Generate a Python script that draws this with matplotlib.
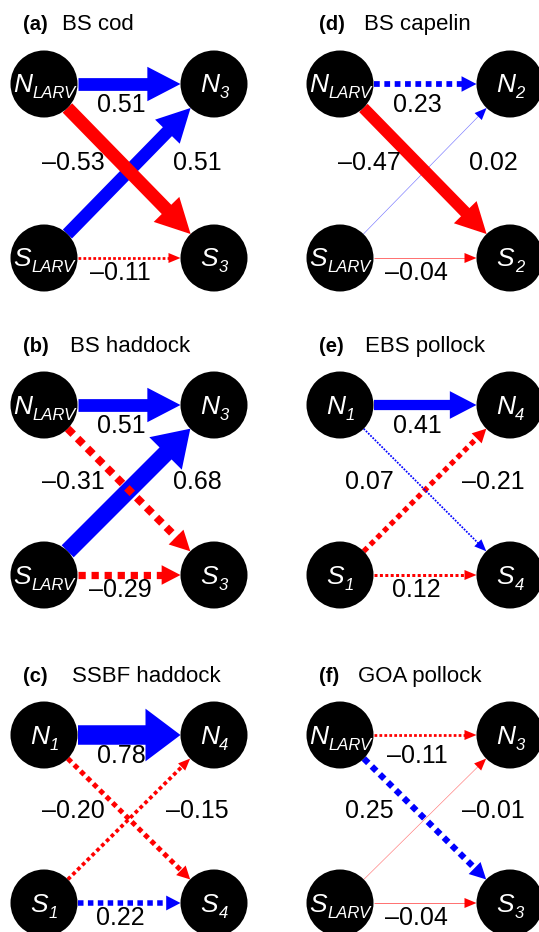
import numpy as np
import matplotlib
matplotlib.use("Agg")
import matplotlib.pyplot as plt
from matplotlib.patches import Circle, Polygon

plt.rcParams['font.family'] = ['Liberation Sans', 'DejaVu Sans']

# Panel data: letters, names, node labels (letter, subscript)
panel_ids = ['(a)', '(b)', '(c)', '(d)', '(e)', '(f)']
panel_names = ['BS cod', 'BS haddock', 'SSBF haddock', 'BS capelin', 'EBS pollock', 'GOA pollock']
start_sub = ['LARV', 'LARV', '1', 'LARV', '1', 'LARV']
end_sub = ['3', '3', '4', '2', '4', '3']

# path coefficients: N->N, N->S, S->N, S->S
coef_nn = [0.51, 0.51, 0.78, 0.23, 0.41, -0.11]
coef_ns = [-0.53, -0.31, -0.20, -0.47, 0.07, 0.25]
coef_sn = [0.51, 0.68, -0.15, 0.02, -0.21, -0.01]
coef_ss = [-0.11, -0.29, 0.22, -0.04, 0.12, -0.04]
# arrow colour as drawn (b = blue, r = red)
col_nn = ['b', 'b', 'b', 'b', 'b', 'r']
col_ns = ['r', 'r', 'r', 'r', 'b', 'b']
col_sn = ['b', 'b', 'r', 'b', 'r', 'r']
col_ss = ['r', 'r', 'b', 'r', 'r', 'r']
# solid (significant) or broken
sig_nn = [True, True, True, False, True, False]
sig_ns = [True, False, False, True, False, False]
sig_sn = [True, True, False, False, False, False]
sig_ss = [False, False, False, False, False, False]

# layout (pixels)
col_x = [44, 340]
top_y = [84, 405, 735]
bot_y = [258, 575, 903]
title_y = [30, 352, 682]
name_x = [62, 70, 72, 364, 365, 358]
dx = 170
R = 33.5
COLORS = {'b': '#0000ff', 'r': '#ff0000'}

fig = plt.figure(figsize=(5.39, 9.32), dpi=100)
ax = fig.add_axes([0, 0, 1, 1])
ax.set_xlim(0, 539)
ax.set_ylim(932, 0)
ax.axis('off')
renderer = fig.canvas.get_renderer()


def arrow(p0, p1, c, colkey, solid):
    color = COLORS[colkey]
    lw = max(25 * abs(c), 0.6)
    p0 = np.array(p0, float)
    p1 = np.array(p1, float)
    u = (p1 - p0) / np.linalg.norm(p1 - p0)
    n = np.array([-u[1], u[0]])
    start = p0 + R * u
    tip = p1 - R * u
    hw = max(10, 2.7 * lw)
    hl = max(12, min(2.6 * lw, 35))
    base = tip - hl * u
    alpha = 1.0
    if solid:
        ls = '-'
    elif lw < 1.5:
        ls = '-'
        alpha = 0.55
    else:
        ls = (0, (1.0, 0.8))
    ax.plot([start[0], base[0] + u[0]], [start[1], base[1] + u[1]], color=color, alpha=alpha,
            lw=lw * 0.72, linestyle=ls, solid_capstyle='butt', dash_capstyle='butt', zorder=2)
    ax.add_patch(Polygon([tip, base + n * hw / 2, base - n * hw / 2], closed=True,
                         facecolor=color, edgecolor='none', zorder=2))


def node(x, y, letter, sub):
    ax.add_patch(Circle((x, y), R, facecolor='black', edgecolor='none', zorder=3))
    t1 = ax.text(0, 0, letter, fontsize=19, style='italic', color='white', zorder=4)
    t2 = ax.text(0, 0, sub, fontsize=12, style='italic', color='white', zorder=4)
    w1 = t1.get_window_extent(renderer).width
    w2 = t2.get_window_extent(renderer).width
    x0 = x - (w1 + w2) / 2
    t1.set_position((x0, y + 8.5))
    t2.set_position((x0 + w1 + 0.5, y + 14.5))


def fmt(c):
    s = f'{abs(c):.2f}'
    return ('\u2013' + s) if c < 0 else s


for i in range(6):
    col, row = i // 3, i % 3
    xl = col_x[col]
    xr = xl + dx
    yt = top_y[row]
    yb = bot_y[row]
    # title
    ax.text(xl - 21, title_y[row], panel_ids[i], fontsize=14.5, fontweight='bold', va='baseline')
    ax.text(name_x[i], title_y[row], panel_names[i], fontsize=16, va='baseline')
    # arrows: S->N drawn before N->S
    arrow((xl, yt), (xr, yt), coef_nn[i], col_nn[i], sig_nn[i])
    arrow((xl, yb), (xr, yb), coef_ss[i], col_ss[i], sig_ss[i])
    arrow((xl, yb), (xr, yt), coef_sn[i], col_sn[i], sig_sn[i])
    arrow((xl, yt), (xr, yb), coef_ns[i], col_ns[i], sig_ns[i])
    # nodes
    node(xl, yt, 'N', start_sub[i])
    node(xl, yb, 'S', start_sub[i])
    node(xr, yt, 'N', end_sub[i])
    node(xr, yb, 'S', end_sub[i])
    # coefficient labels
    mid = (yt + yb) / 2 - 8
    ax.text(xl + 77, yt + 21, fmt(coef_nn[i]), fontsize=18, ha='center', va='center', zorder=5)
    ax.text(xl + 29, mid, fmt(coef_ns[i]), fontsize=18, ha='center', va='center', zorder=5)
    ax.text(xr - 17, mid, fmt(coef_sn[i]), fontsize=18, ha='center', va='center', zorder=5)
    ax.text(xl + 76, yb + 15, fmt(coef_ss[i]), fontsize=18, ha='center', va='center', zorder=5)

fig.savefig('out.png', dpi=100)
